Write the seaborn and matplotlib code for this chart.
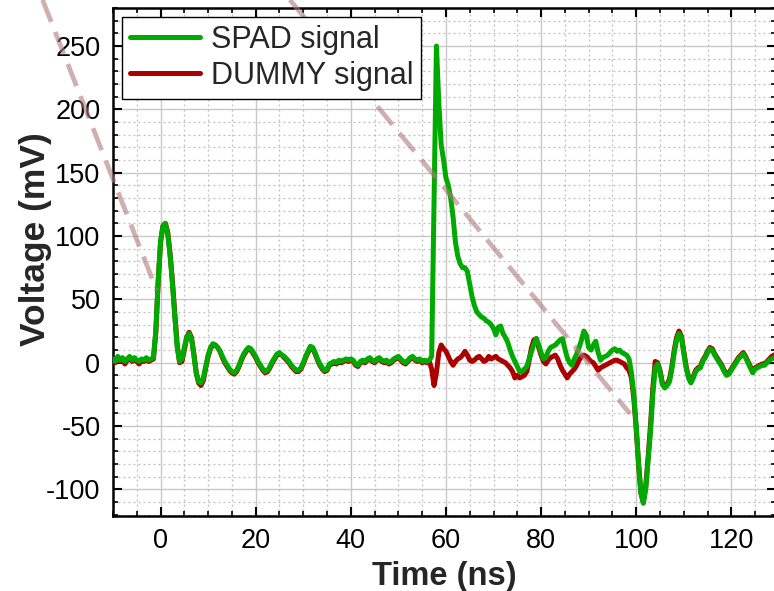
import numpy as np
import pandas as pd
import matplotlib
matplotlib.use("Agg")
import matplotlib.pyplot as plt
from matplotlib.ticker import MultipleLocator
import seaborn as sns

# ---- data (sampled every 0.5 ns from -10 to 129.5 ns) ----
time_start_ns = -10.0
time_step_ns = 0.5

spad_mv = [
    # -10 .. -0.5
    3, 1, 5, 2, 4, 1, 3, 5, 2, 4, 2, 1, 3, 2, 4, 2, 3, 4, 25, 65,
    # 0 .. 9.5
    96, 108, 110, 102, 85, 62, 36, 12, 1, 3, 12, 20, 23, 19, 6, -8, -15, -16, -12, -3,
    # 10 .. 19.5
    6, 12, 15, 14, 12, 9, 5, 1, -2, -5, -7, -8, -6, -2, 3, 7, 10, 12, 11, 8,
    # 20 .. 29.5
    5, 1, -2, -5, -7, -6, -3, 1, 4, 7, 8, 6, 5, 3, 1, -2, -4, -6, -6, -4,
    # 30 .. 39.5
    0, 5, 9, 13, 12, 8, 3, -1, -4, -6, -5, -1, 0, 1, 0, 2, 1, 2, 3, 2,
    # 40 .. 49.5
    3, 2, -1, -2, 1, 2, 1, 3, 4, 2, 1, 3, 4, 2, 1, 2, 0, 1, 3, 4,
    # 50 .. 59.5
    5, 3, 1, 0, 2, 4, 5, 3, 2, 3, 1, 2, 1, 2, 5, 125, 250, 205, 172, 160,
    # 60 .. 69.5
    146, 140, 130, 115, 95, 84, 78, 75, 75, 72, 62, 52, 45, 40, 38, 36, 35, 33, 32, 30,
    # 70 .. 79.5
    27, 22, 28, 29, 23, 20, 16, 10, 5, 1, -3, -7, -7, -5, -3, 3, 9, 15, 19, 14,
    # 80 .. 89.5
    8, 3, 4, 9, 12, 13, 14, 16, 18, 19, 11, 4, 0, -2, 3, 7, 12, 18, 25, 22,
    # 90 .. 99.5
    12, 10, 14, 17, 8, 2, 4, 5, 6, 8, 10, 11, 9, 10, 8, 7, 6, 3, -8, -25,
    # 100 .. 109.5
    -50, -80, -103, -111, -100, -78, -55, -25, -4, -1, -7, -17, -20, -18, -15, -5, 8, 18, 23, 20,
    # 110 .. 119.5
    8, -4, -12, -16, -12, -7, -5, -4, 1, 4, 8, 11, 10, 6, 3, 0, -3, -7, -10, -9,
    # 120 .. 129.5
    -6, -3, 0, 3, 5, 7, 4, 0, -4, -8, -5, -4, -3, -2, -2, 0, 2, 3, 4, 5,
]

dummy_mv = [
    # -10 .. -0.5
    2, 0, 3, 1, 3, -1, 2, 4, 1, 3, 1, -1, 2, 1, 3, 1, 2, 3, 24, 64,
    # 0 .. 9.5
    95, 108, 110, 103, 86, 64, 38, 14, 0, 1, 10, 20, 24, 20, 7, -8, -16, -18, -14, -4,
    # 10 .. 19.5
    5, 11, 14, 14, 12, 9, 4, 0, -3, -6, -8, -9, -7, -3, 2, 6, 9, 11, 10, 7,
    # 20 .. 29.5
    4, 0, -3, -6, -8, -7, -4, 0, 3, 6, 7, 6, 4, 2, 0, -3, -5, -7, -7, -5,
    # 30 .. 39.5
    -1, 4, 8, 12, 11, 7, 2, -2, -5, -7, -6, -2, -1, 0, -1, 1, 0, 1, 2, 1,
    # 40 .. 49.5
    2, 1, -2, -3, 0, 1, 0, 2, 3, 1, 0, 2, 3, 1, 0, 1, -1, 0, 2, 3,
    # 50 .. 59.5
    4, 2, 0, -1, 1, 3, 4, 2, 1, 2, 0, 1, 0, 1, -5, -18, -8, 8, 14, 11,
    # 60 .. 69.5
    9, 5, 1, -2, 1, 3, 4, 6, 9, 6, 2, 1, 2, 4, 5, 3, 1, 2, 5, 3,
    # 70 .. 79.5
    4, 5, 3, 2, 1, 0, -2, -4, -7, -12, -10, -12, -11, -10, -7, 2, 12, 18, 19, 12,
    # 80 .. 89.5
    6, 1, -1, 2, 4, 5, 6, 3, -2, -6, -9, -12, -9, -7, -5, -2, 2, 5, 6, 5,
    # 90 .. 99.5
    3, 1, 0, -3, -6, -4, -3, -2, -1, 0, 1, 2, 2, 1, 0, -1, -4, -6, -12, -28,
    # 100 .. 109.5
    -52, -80, -103, -110, -98, -75, -50, -20, 1, 0, -6, -16, -19, -17, -13, -3, 10, 20, 25, 21,
    # 110 .. 119.5
    9, -3, -11, -15, -11, -6, -4, -3, 2, 5, 9, 12, 11, 7, 4, 1, -2, -6, -9, -8,
    # 120 .. 129.5
    -5, -2, 1, 4, 6, 8, 5, 1, -3, -7, -4, -3, -2, -1, -1, 1, 3, 5, 6, 7,
]

series_names = ["SPAD signal", "DUMMY signal"]
series_colors = ["#00aa00", "#aa0000"]

time_ns = time_start_ns + time_step_ns * np.arange(len(spad_mv))

df = pd.concat([
    pd.DataFrame({"Time": time_ns, "Voltage": spad_mv, "Signal": series_names[0]}),
    pd.DataFrame({"Time": time_ns, "Voltage": dummy_mv, "Signal": series_names[1]}),
], ignore_index=True)

# ---- style ----
sns.set_style("white")
plt.rcParams["font.family"] = ["Liberation Sans", "DejaVu Sans"]
plt.rcParams["axes.unicode_minus"] = False

fig = plt.figure(figsize=(7.74, 5.91), dpi=100)
ax = fig.add_axes([113 / 774, 1 - 516 / 591, 1 - 113 / 774 + 0.002, (516 - 8) / 591])

# decorative dashed guide lines (in data coordinates, unclipped)
for (x0, y0, x1, y1) in [(-24.8, 286.4, -0.8, 57.0), (27.2, 286.4, 98.7, -40.3)]:
    ax.plot([x0, x1], [y0, y1], color="#b07a7a", alpha=0.6, lw=3.4,
            linestyle=(0, (5, 2.3)), clip_on=False, zorder=5, solid_capstyle="butt")

sns.lineplot(data=df[df.Signal == series_names[1]], x="Time", y="Voltage",
             color=series_colors[1], lw=3.6, estimator=None, ax=ax, zorder=3,
             label=series_names[1])
sns.lineplot(data=df[df.Signal == series_names[0]], x="Time", y="Voltage",
             color=series_colors[0], lw=3.6, estimator=None, ax=ax, zorder=4,
             label=series_names[0])

ax.set_xlim(-10, 129.3)
ax.set_ylim(-121, 280)

ax.xaxis.set_major_locator(MultipleLocator(20))
ax.xaxis.set_minor_locator(MultipleLocator(5))
ax.yaxis.set_major_locator(MultipleLocator(50))
ax.yaxis.set_minor_locator(MultipleLocator(10))

ax.grid(which="major", color="#c8c8c8", lw=1.0, ls="-", zorder=0)
ax.grid(which="minor", color="#bdbdbd", lw=0.9, ls=(0, (1.5, 2.5)), zorder=0)
ax.set_axisbelow(True)

ax.tick_params(which="both", direction="in", top=True, right=True,
               bottom=True, left=True, labelsize=19.5, colors="black")
ax.tick_params(which="major", length=6.5, width=1.5, pad=9)
ax.tick_params(which="minor", length=3.5, width=1.2)

for side in ["left", "bottom", "top"]:
    ax.spines[side].set_linewidth(1.8)
    ax.spines[side].set_color("black")
ax.spines["right"].set_visible(False)

ax.set_xlabel("Time (ns)", fontsize=23.5, fontweight="bold", labelpad=5)
ax.set_ylabel("Voltage (mV)", fontsize=25.5, fontweight="bold")
ax.yaxis.set_label_coords(-0.092, 0.545)

handles, labels = ax.get_legend_handles_labels()
order = [labels.index(n) for n in series_names]
leg = ax.legend([handles[i] for i in order], [labels[i] for i in order],
                loc="upper left", fontsize=22, frameon=True, fancybox=False,
                edgecolor="black", framealpha=1.0, borderaxespad=0.3,
                handlelength=2.3, handletextpad=0.35, labelspacing=0.2,
                borderpad=0.25)
leg.get_frame().set_linewidth(1.0)
leg.set_zorder(10)

fig.savefig("out.png", dpi=100)
